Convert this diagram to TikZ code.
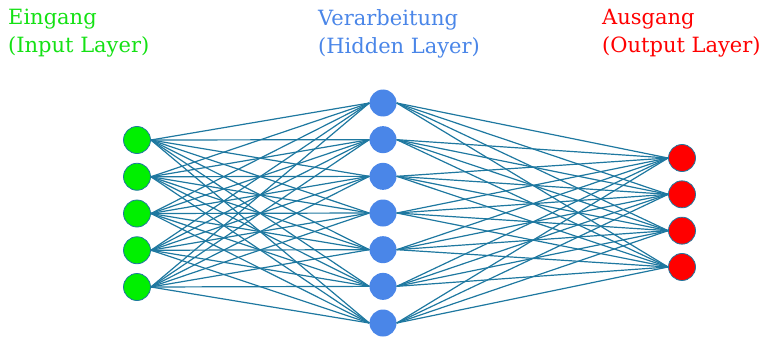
\documentclass[tikz,border=0pt]{standalone}
\usepackage{fontspec}
\setmainfont{DejaVu Serif}
\usepackage{tikz}

\definecolor{ingreen}{RGB}{0,240,0}
\definecolor{labgreen}{RGB}{20,225,20}
\definecolor{hidblue}{RGB}{74,134,232}
\definecolor{outred}{RGB}{255,0,0}
\definecolor{wire}{RGB}{30,120,160}

\begin{document}
\begin{tikzpicture}[x=1pt, y=-1pt, neuron/.style={circle, minimum size=27pt, inner sep=0pt}, wirestyle/.style={wire, line width=1.2pt}, lab/.style={anchor=north west, align=left, font=\fontsize{21}{28}\selectfont, inner sep=0pt}]
	\useasboundingbox (0,0) rectangle (766,337);
	% labels
	\node[lab, text=labgreen] (tin) at (8,9) {Eingang\\(Input Layer)};
	\node[lab, text=hidblue] (thid) at (318,9) {Verarbeitung\\(Hidden Layer)};
	\node[lab, text=outred] (tout) at (602,9) {Ausgang\\(Output Layer)};
	% layers
	\foreach \k in {1,...,5} {\node[neuron, fill=ingreen, draw=wire, line width=0.8pt] (i\k) at (137,{140+36.75*(\k-1)}) {};}
	\foreach \k in {1,...,7} {\node[neuron, fill=hidblue] (h\k) at (383,{103+36.67*(\k-1)}) {};}
	\foreach \k in {1,...,4} {\node[neuron, fill=outred, draw=wire, line width=0.8pt] (o\k) at (682,{158+36.33*(\k-1)}) {};}
	% connections
	\foreach \a in {1,...,5} {\foreach \b in {1,...,7} {\draw[wirestyle] (i\a.east) -- (h\b.west);}}
	\foreach \b in {1,...,7} {\foreach \c in {1,...,4} {\draw[wirestyle] (h\b.east) -- (o\c.west);}}
\end{tikzpicture}
\end{document}
